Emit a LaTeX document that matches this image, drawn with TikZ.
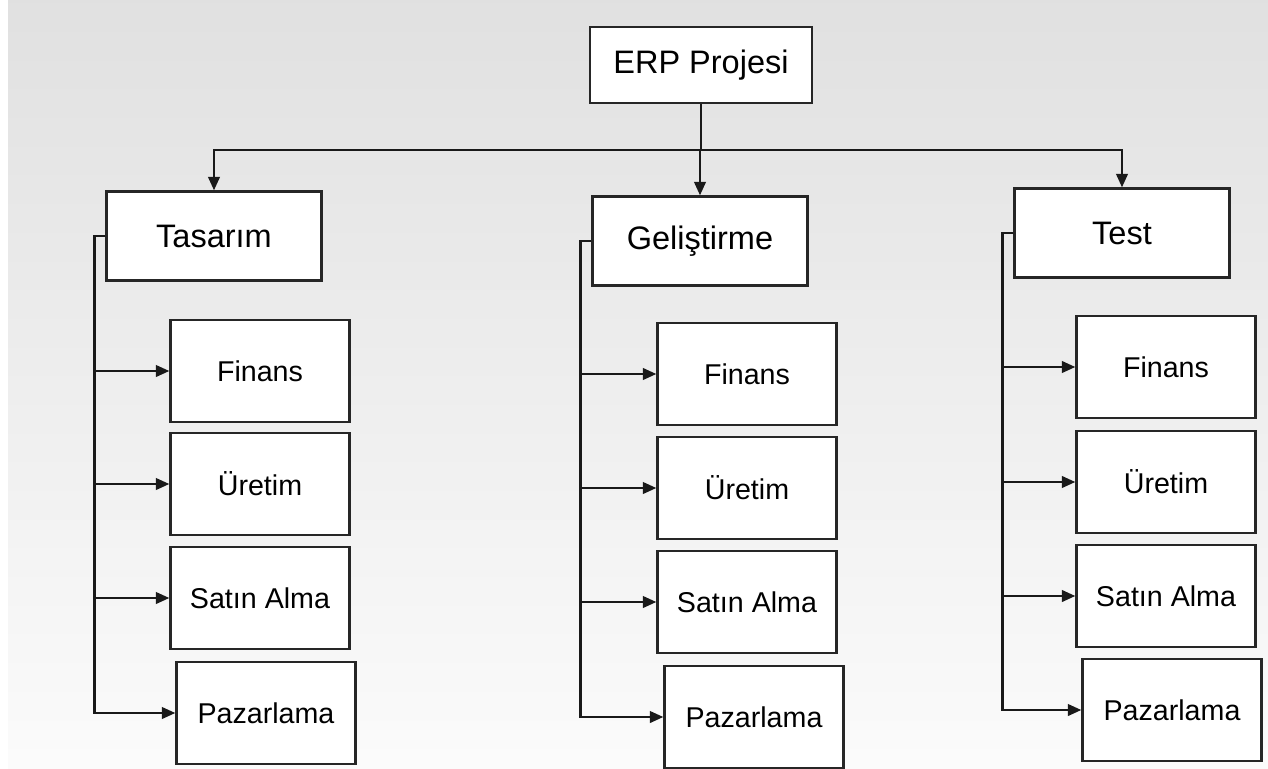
\documentclass[tikz,border=0pt]{standalone}
\usepackage{fontspec}
\setmainfont{Liberation Sans}
\usetikzlibrary{arrows.meta}
\tikzset{
  topbox/.style={draw=black!85,fill=white,line width=1.3pt,minimum width=4.3cm,minimum height=1.78cm,inner sep=0pt,font=\fontsize{18.5}{22}\selectfont},
  rootbox/.style={topbox,minimum width=4.44cm,minimum height=1.52cm},
  subbox/.style={draw=black!85,fill=white,line width=1.3pt,minimum width=3.58cm,minimum height=2.04cm,inner sep=0pt,font=\fontsize{16.3}{20}\selectfont},
  link/.style={draw=black!90,line width=1.4pt},
  arr/.style={link,-{Triangle[length=2.7mm,width=2.3mm]}}
}

\begin{document}
\begin{tikzpicture}[x=0.02cm,y=-0.02cm]
% page and background
\useasboundingbox (0,0) rectangle (1268,768);
\fill[white] (0,0) rectangle (1268,768);
\shade[top color=black!12,bottom color=black!1.5] (8,0) rectangle (1268,768);

% first level
\node[rootbox] (erp) at (701,65) {ERP Projesi};
\node[topbox] (tas) at (214,236) {Tasarım};
\node[topbox] (gel) at (700,241) {Geliştirme};
\node[topbox] (tst) at (1122,233) {Test};

\coordinate (bus) at (700,150);
\draw[link] (erp.south) -- (erp.south |- bus);
\draw[arr] (bus) -| (tas.north);
\draw[arr] (bus) -- (gel.north);
\draw[arr] (bus) -| (tst.north);

% second level
\node[subbox] (tasfin) at (260,371) {Finans};
\node[subbox] (tasure) at (260,484) {Üretim};
\node[subbox] (tassat) at (260,598) {Satın Alma};
\node[subbox] (taspaz) at (266,713) {Pazarlama};

\node[subbox] (gelfin) at (747,374) {Finans};
\node[subbox] (gelure) at (747,488) {Üretim};
\node[subbox] (gelsat) at (747,602) {Satın Alma};
\node[subbox] (gelpaz) at (754,717) {Pazarlama};

\node[subbox] (tstfin) at (1166,367) {Finans};
\node[subbox] (tsture) at (1166,482) {Üretim};
\node[subbox] (tstsat) at (1166,596) {Satın Alma};
\node[subbox] (tstpaz) at (1172,710) {Pazarlama};

\foreach \p in {tas,gel,tst}
  \foreach \c in {fin,ure,sat,paz}
    \draw[arr] (\p.west) -- ++(-11,0) |- (\p\c.west);
\end{tikzpicture}
\end{document}
